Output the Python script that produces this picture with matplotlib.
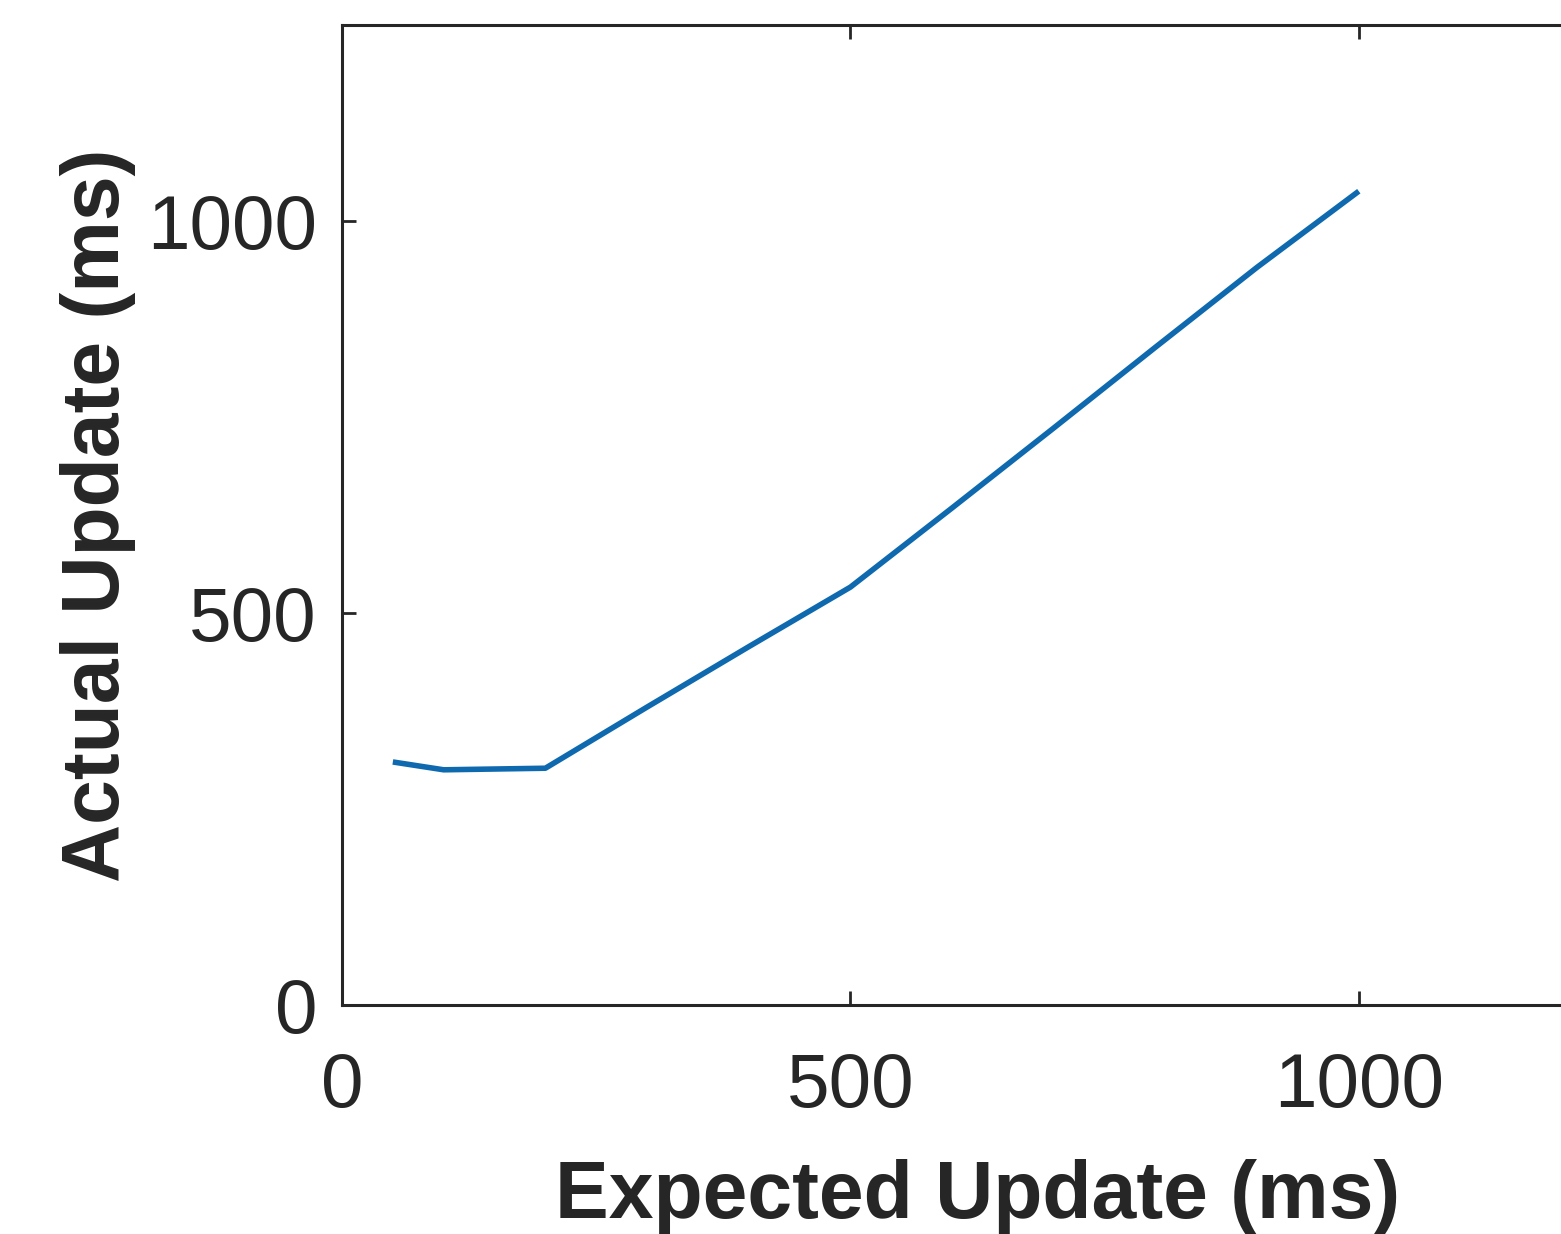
import matplotlib
matplotlib.use("Agg")
import matplotlib.pyplot as plt

# expected vs actual update period (ms)
expected = [50, 100, 200, 300, 400, 500, 600, 700, 800, 900, 1000]
actual = [310, 300, 302, 380, 457, 533, 634, 736, 839, 941, 1038]

plt.rcParams['font.family'] = ['Liberation Sans', 'DejaVu Sans']
dark = '#262626'

fig = plt.figure(figsize=(15.61, 12.34), dpi=100)
# axes run past the right edge, like the cropped original
ax = fig.add_axes([342/1561, 1 - 1005/1234, (1613 - 342)/1561, (1005 - 25)/1234])

ax.plot(expected, actual, color='#0F69AE', linewidth=4.0, solid_capstyle='butt')

ax.set_xlim(0, 1250)
ax.set_ylim(0, 1250)
ax.set_xticks([0, 500, 1000])
ax.set_yticks([0, 500, 1000])

ax.tick_params(direction='in', length=10, width=2, colors=dark,
               labelsize=55, top=True, right=True)
ax.tick_params(axis='x', pad=34)
ax.tick_params(axis='y', pad=18)
for s in ax.spines.values():
    s.set_linewidth(2.2)
    s.set_color(dark)

ax.set_xlabel('Expected Update (ms)', fontsize=58, fontweight='bold', color=dark, labelpad=26)
ax.set_ylabel('Actual Update (ms)', fontsize=58, fontweight='bold', color=dark, labelpad=8)

fig.savefig('out.png', dpi=100)
